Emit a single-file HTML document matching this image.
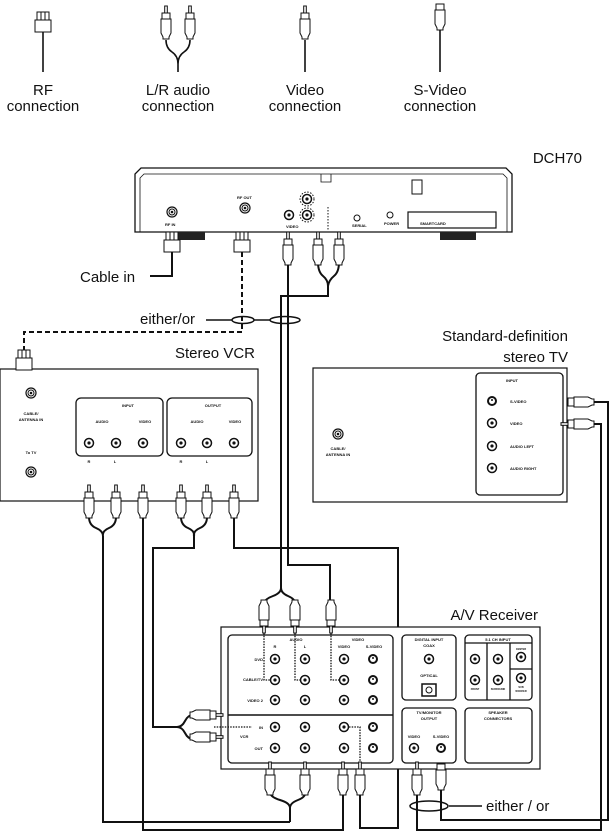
<!DOCTYPE html>
<html><head><meta charset="utf-8"><style>
html,body{margin:0;padding:0;background:#fff}
svg{display:block}
text{font-family:"Liberation Sans",sans-serif;fill:#111}
.big{font-size:15px}
.t{font-size:5px;font-weight:bold}
.s{font-size:4px;font-weight:bold}
</style></head><body>
<svg width="612" height="834" viewBox="0 0 612 834" xmlns="http://www.w3.org/2000/svg">
<defs>
<g id="rca"><rect x="-1.3" y="0" width="2.6" height="7" fill="#fff" stroke="#111" stroke-width="1"/><rect x="-4" y="7" width="8" height="6" fill="#fff" stroke="#111" stroke-width="1"/><path d="M-5,13 h10 v14 l-2,4 v2 h-6 v-2 l-2,-4 z" fill="#fff" stroke="#111" stroke-width="1"/></g>
<g id="svp"><rect x="-4" y="0" width="8" height="6" fill="#fff" stroke="#111" stroke-width="1"/><path d="M-5,6 h10 v14 l-2,4 v2 h-6 v-2 l-2,-4 z" fill="#fff" stroke="#111" stroke-width="1"/></g>
<g id="rf"><rect x="-6" y="0" width="12" height="8" fill="#fff" stroke="#111" stroke-width="1"/><path d="M-2,0v8M2,0v8" stroke="#111"/><rect x="-8" y="8" width="16" height="12" fill="#fff" stroke="#111" stroke-width="1"/></g>
<g id="jk"><circle r="4.5" fill="#fff" stroke="#111" stroke-width="1.5"/><circle r="1.6" fill="#111"/></g>
<g id="sv"><circle r="5" fill="#111"/><circle r="3" fill="#fff"/><circle r="1" cy="-1" fill="#111"/></g>
<g id="co"><circle r="5" fill="#fff" stroke="#111" stroke-width="1.2"/><circle r="3" fill="none" stroke="#111"/><circle r="1.3" fill="#111"/></g>
</defs>

<!-- legend -->
<g stroke="#111" stroke-width="1.6" fill="none">
<path d="M43,32V72"/>
<path d="M166,40 q0,8 6,12 q6,4 6,12 V72 M190,40 q0,8 -6,12 q-6,4 -6,12"/>
<path d="M305,40V72"/>
<path d="M440,30V72"/>
</g>
<use href="#rf" x="43" y="12"/>
<use href="#rca" x="166" y="6"/><use href="#rca" x="190" y="6"/>
<use href="#rca" x="305" y="6"/>
<use href="#svp" x="440" y="4"/>
<g class="big" text-anchor="middle" font-size="16">
<text x="43" y="95">RF</text><text x="43" y="111">connection</text>
<text x="178" y="95">L/R audio</text><text x="178" y="111">connection</text>
<text x="305" y="95">Video</text><text x="305" y="111">connection</text>
<text x="440" y="95">S-Video</text><text x="440" y="111">connection</text>
</g>

<!-- DCH70 -->
<text class="big" x="582" y="163" text-anchor="end" font-size="16">DCH70</text>
<path d="M135,232 V174 l6,-6 H506 l6,6 V232 Z" fill="#fff" stroke="#111" stroke-width="1.3"/>
<path d="M140,232 V178 l4,-4 H503 l4,4 V232" fill="none" stroke="#111" stroke-width="0.8"/>
<path d="M321,174 v8 h10 v-8" fill="none" stroke="#111" stroke-width="0.8"/>
<rect x="175" y="232" width="30" height="8" fill="#222"/>
<path d="M440,232 h36 v8 h-36z" fill="#222"/>
<use href="#co" x="172" y="212"/><use href="#co" x="245" y="208"/>
<use href="#jk" x="289" y="215"/><use href="#jk" x="307" y="199"/><use href="#jk" x="307" y="215"/>
<circle cx="307" cy="199" r="7" fill="none" stroke="#111" stroke-dasharray="1.5 1.5"/>
<circle cx="307" cy="215" r="7" fill="none" stroke="#111" stroke-dasharray="1.5 1.5"/>
<circle cx="357" cy="218" r="3" fill="#fff" stroke="#111"/><circle cx="390" cy="215" r="3" fill="#fff" stroke="#111"/>
<rect x="408" y="212" width="88" height="16" fill="#fff" stroke="#111" stroke-width="1.2"/>
<rect x="412" y="180" width="10" height="14" fill="#fff" stroke="#111"/>
<g class="s" font-size="3"><text x="165" y="226">RF IN</text><text x="237" y="199">RF OUT</text><text x="286" y="228">VIDEO</text><text x="352" y="227">SERIAL</text><text x="384" y="225">POWER</text><text x="420" y="225">SMARTCARD</text></g>
<path d="M328,207 v24" stroke="#111" stroke-dasharray="1.5 1.5"/>

<!-- DCH cables -->
<g stroke="#111" stroke-width="2" fill="none">
<path d="M172,252 V276 H150"/>
<path d="M242,252 V332 H24 V352" stroke-dasharray="5 3"/>
<path d="M318,262 q0,10 5,14 q5,4 5,10 V296 H281 V588 M339,262 q0,10 -5,14 q-5,4 -6,10"/>
<path d="M281,588 q0,5 -8,8 q-8,3 -9,7 M281,588 q0,5 7,8 q7,3 7,7"/>
<path d="M288,262 V565 H330 V605"/>
</g>
<use href="#rf" x="172" y="232"/><use href="#rf" x="242" y="232"/>
<g transform="translate(0,232)"><use href="#rca" x="288"/><use href="#rca" x="318"/><use href="#rca" x="339"/></g>
<text class="big" x="80" y="282" font-size="16">Cable in</text>
<text class="big" x="140" y="324" font-size="16">either/or</text>
<path d="M206,320 H232" stroke="#111" stroke-width="1.5"/>
<ellipse cx="243" cy="320" rx="11" ry="3.5" fill="none" stroke="#111" stroke-width="1.5"/>
<ellipse cx="285" cy="320" rx="15" ry="3.5" fill="none" stroke="#111" stroke-width="1.5"/>
<path d="M254,320 H270" stroke="#111" stroke-width="1.5"/>

<!-- VCR -->
<text class="big" x="255" y="358" text-anchor="end" font-size="17">Stereo VCR</text>
<rect x="0" y="369" width="258" height="132" fill="#fff" stroke="#111" stroke-width="1.2"/>
<use href="#rf" x="24" y="350"/>
<use href="#co" x="31" y="393"/>
<text class="s" x="31" y="415" text-anchor="middle">CABLE/</text><text class="s" x="31" y="421" text-anchor="middle">ANTENNA IN</text>
<text class="s" x="31" y="454" text-anchor="middle">To TV</text>
<use href="#co" x="31" y="472"/>
<rect x="76" y="398" width="87" height="58" rx="5" fill="none" stroke="#111" stroke-width="1.3"/>
<rect x="167" y="398" width="85" height="58" rx="5" fill="none" stroke="#111" stroke-width="1.3"/>
<g class="s" text-anchor="middle">
<text x="128" y="407">INPUT</text><text x="102" y="423">AUDIO</text><text x="145" y="423">VIDEO</text><text x="89" y="463">R</text><text x="115" y="463">L</text>
<text x="213" y="407">OUTPUT</text><text x="197" y="423">AUDIO</text><text x="235" y="423">VIDEO</text><text x="181" y="463">R</text><text x="207" y="463">L</text>
</g>
<use href="#jk" x="89" y="443"/><use href="#jk" x="116" y="443"/><use href="#jk" x="143" y="443"/>
<use href="#jk" x="181" y="443"/><use href="#jk" x="207" y="443"/><use href="#jk" x="234" y="443"/>

<!-- TV -->
<text class="big" x="568" y="341" text-anchor="end" font-size="17">Standard-definition</text>
<text class="big" x="568" y="362" text-anchor="end" font-size="17">stereo TV</text>
<rect x="313" y="368" width="254" height="134" fill="#fff" stroke="#111" stroke-width="1.2"/>
<rect x="476" y="373" width="87" height="122" rx="4" fill="none" stroke="#111" stroke-width="1.3"/>
<use href="#co" x="338" y="434"/>
<text class="s" x="338" y="450" text-anchor="middle">CABLE/</text><text class="s" x="338" y="456" text-anchor="middle">ANTENNA IN</text>
<text class="s" x="512" y="382" text-anchor="middle">INPUT</text>
<use href="#sv" x="492" y="401"/><use href="#jk" x="492" y="423"/><use href="#jk" x="492" y="446"/><use href="#jk" x="492" y="468"/>
<g class="s"><text x="510" y="403">S-VIDEO</text><text x="510" y="425">VIDEO</text><text x="510" y="448">AUDIO LEFT</text><text x="510" y="470">AUDIO RIGHT</text></g>

<!-- VCR cables -->
<g stroke="#111" stroke-width="2" fill="none">
<path d="M89,517 q0,8 7,11 q7,3 7,8 V822 H290 M116,517 q0,8 -7,11 q-7,3 -6,8"/>
<path d="M143,517 V830 H343 V795"/>
<path d="M181,517 q0,8 7,11 q7,3 6,8 V548 H153 V727 H177 M207,517 q0,8 -7,11 q-7,3 -6,8"/>
<path d="M234,517 V548 H398 V828 H360 V795"/>
<path d="M290,822 V808 q0,-5 -10,-8 q-10,-3 -10,-8 M290,808 q0,-5 8,-8 q8,-3 7,-8"/>
<path d="M177,727 q5,0 8,-6 q3,-6 8,-6 M177,727 q5,0 8,6 q3,6 8,6"/>
<path d="M417,795 V830 H601 V424 H578"/>
<path d="M441,790 V820 H608 V402 H580"/>
</g>
<g transform="translate(568,402) rotate(-90)"><use href="#svp" x="0" y="0"/></g>
<g transform="translate(561,424) rotate(-90)"><use href="#rca" x="0" y="0"/></g>
<g transform="translate(0,485)">
<use href="#rca" x="89"/><use href="#rca" x="116"/><use href="#rca" x="143"/><use href="#rca" x="181"/><use href="#rca" x="207"/><use href="#rca" x="234"/>
</g>
<text class="big" x="486" y="811" font-size="16">either / or</text>
<path d="M449,806 H482" stroke="#111" stroke-width="1.5"/>
<ellipse cx="429" cy="806" rx="19" ry="5" fill="none" stroke="#111" stroke-width="1.5"/>

<!-- Receiver -->
<text class="big" x="538" y="620" text-anchor="end" font-size="17">A/V Receiver</text>
<rect x="221" y="627" width="319" height="142" fill="#fff" stroke="#111" stroke-width="1.2"/>
<rect x="228" y="635" width="165" height="128" rx="4" fill="none" stroke="#111" stroke-width="1.3"/>
<path d="M228,715 H393" stroke="#111" stroke-width="1.5"/>
<rect x="402" y="635" width="54" height="65" rx="4" fill="none" stroke="#111" stroke-width="1.3"/>
<rect x="465" y="635" width="67" height="65" rx="4" fill="none" stroke="#111" stroke-width="1.3"/>
<path d="M465,643 H532 M487,643 V700 M510,643 V700 M510,669 H532" stroke="#111" stroke-width="1.3"/>
<rect x="402" y="708" width="54" height="55" rx="4" fill="none" stroke="#111" stroke-width="1.3"/>
<rect x="465" y="708" width="67" height="55" rx="4" fill="none" stroke="#111" stroke-width="1.3"/>
<g class="s" text-anchor="middle">
<text x="296" y="641">AUDIO</text><text x="275" y="648">R</text><text x="305" y="648">L</text><text x="358" y="641">VIDEO</text><text x="344" y="648">VIDEO</text><text x="374" y="648">S-VIDEO</text>
<text x="429" y="641">DIGITAL INPUT</text><text x="429" y="647">COAX</text><text x="429" y="677">OPTICAL</text>
<text x="498" y="641">5.1 CH INPUT</text>
<text x="475" y="690" font-size="2.5">FRONT</text><text x="498" y="690" font-size="2.5">SURROUND</text><text x="521" y="650" font-size="2.5">CENTER</text><text x="521" y="688" font-size="2.5">SUB</text><text x="521" y="692" font-size="2.5">WOOFER</text>
<text x="429" y="714">TV/MONITOR</text><text x="429" y="720">OUTPUT</text><text x="414" y="738">VIDEO</text><text x="441" y="738">S-VIDEO</text>
<text x="498" y="714">SPEAKER</text><text x="498" y="720">CONNECTORS</text>
</g>
<g class="s" text-anchor="end"><text x="263" y="661">DVD</text><text x="263" y="681">CABLE/TV</text><text x="263" y="702">VIDEO 2</text><text x="263" y="729">IN</text><text x="263" y="750">OUT</text></g>
<text class="s" x="240" y="738">VCR</text>
<g>
<use href="#jk" x="275" y="659"/><use href="#jk" x="305" y="659"/><use href="#jk" x="344" y="659"/><use href="#sv" x="373" y="659"/>
<use href="#jk" x="275" y="680"/><use href="#jk" x="305" y="680"/><use href="#jk" x="344" y="680"/><use href="#sv" x="373" y="680"/>
<use href="#jk" x="275" y="700"/><use href="#jk" x="305" y="700"/><use href="#jk" x="344" y="700"/><use href="#sv" x="373" y="700"/>
<use href="#jk" x="275" y="727"/><use href="#jk" x="305" y="727"/><use href="#jk" x="344" y="727"/><use href="#sv" x="373" y="727"/>
<use href="#jk" x="275" y="748"/><use href="#jk" x="305" y="748"/><use href="#jk" x="344" y="748"/><use href="#sv" x="373" y="748"/>
<use href="#jk" x="429" y="659"/><use href="#jk" x="475" y="659"/><use href="#jk" x="498" y="659"/><use href="#jk" x="521" y="657"/>
<use href="#jk" x="475" y="680"/><use href="#jk" x="498" y="680"/><use href="#jk" x="521" y="678"/>
<use href="#jk" x="414" y="748"/><use href="#sv" x="441" y="748"/>
</g>
<rect x="422" y="684" width="14" height="12" fill="#fff" stroke="#111" stroke-width="1.5"/><circle cx="429" cy="690" r="3" fill="none" stroke="#111"/>
<g stroke="#111" stroke-width="1.3" stroke-dasharray="1.5 1.2" fill="none">
<path d="M264,633 V680 H270 M295,633 V680 H300 M331,633 V680 H339 M214,727 H252 M349,727 H360 V762"/>
</g>
<g transform="translate(0,633) scale(1,-1)"><use href="#rca" x="264"/><use href="#rca" x="295"/><use href="#rca" x="331"/></g>
<g transform="translate(0,762)">
<use href="#rca" x="270"/><use href="#rca" x="305"/><use href="#rca" x="343"/><use href="#rca" x="360"/><use href="#rca" x="417"/>
</g>
<use href="#svp" x="441" y="764"/>
<g transform="translate(223,715) rotate(90)"><use href="#rca" x="0" y="0"/></g>
<g transform="translate(223,737) rotate(90)"><use href="#rca" x="0" y="0"/></g>
</svg>
</body></html>
